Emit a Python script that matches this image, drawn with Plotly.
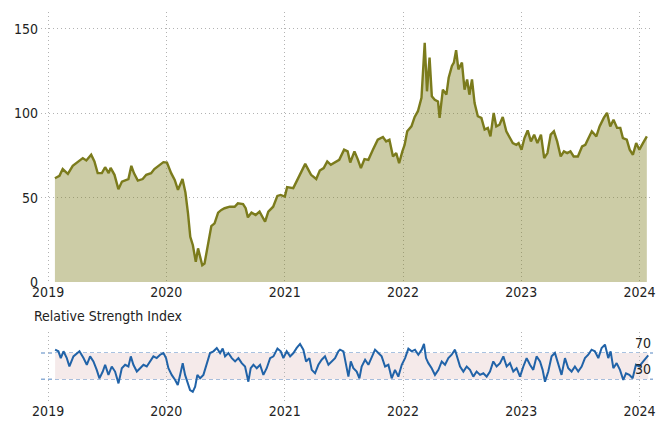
import pandas as pd
import plotly.graph_objects as go

# ---------------- data ----------------
price_dates = [
    "2019-01-22", "2019-02-05", "2019-02-15", "2019-03-03", "2019-03-18", "2019-04-03",
    "2019-04-18", "2019-04-29", "2019-05-14", "2019-05-24", "2019-06-03", "2019-06-16",
    "2019-06-26", "2019-07-07", "2019-07-13", "2019-07-25", "2019-08-06", "2019-08-17",
    "2019-08-30", "2019-09-06", "2019-09-15", "2019-09-23", "2019-10-05", "2019-10-20",
    "2019-10-31", "2019-11-15", "2019-11-25", "2019-12-10", "2019-12-23", "2020-01-03",
    "2020-01-16", "2020-01-27", "2020-02-06", "2020-02-20", "2020-02-29", "2020-03-08",
    "2020-03-15", "2020-03-23", "2020-04-01", "2020-04-08", "2020-04-15", "2020-04-21",
    "2020-04-28", "2020-05-09", "2020-05-19", "2020-05-29", "2020-06-09", "2020-06-19",
    "2020-06-29", "2020-07-15", "2020-07-30", "2020-08-09", "2020-08-25", "2020-09-02",
    "2020-09-09", "2020-09-20", "2020-10-03", "2020-10-15", "2020-11-01", "2020-11-11",
    "2020-11-26", "2020-12-09", "2020-12-19", "2021-01-01", "2021-01-08", "2021-01-27",
    "2021-02-06", "2021-02-19", "2021-03-05", "2021-03-12", "2021-03-23", "2021-04-08",
    "2021-04-19", "2021-05-01", "2021-05-12", "2021-05-23", "2021-06-04", "2021-06-18",
    "2021-07-03", "2021-07-14", "2021-07-22", "2021-08-04", "2021-08-14", "2021-08-24",
    "2021-09-04", "2021-09-16", "2021-09-30", "2021-10-15", "2021-10-31", "2021-11-10",
    "2021-11-20", "2021-12-01", "2021-12-11", "2021-12-20", "2021-12-30", "2022-01-06",
    "2022-01-14", "2022-01-27", "2022-02-06", "2022-02-16", "2022-02-27", "2022-03-09",
    "2022-03-16", "2022-03-24", "2022-03-31", "2022-04-09", "2022-04-19", "2022-04-24",
    "2022-05-04", "2022-05-15", "2022-05-22", "2022-06-01", "2022-06-07", "2022-06-14",
    "2022-06-21", "2022-07-02", "2022-07-10", "2022-07-18", "2022-07-25", "2022-08-02",
    "2022-08-10", "2022-08-20", "2022-08-31", "2022-09-10", "2022-09-20", "2022-09-28",
    "2022-10-08", "2022-10-16", "2022-10-26", "2022-11-05", "2022-11-16", "2022-11-26",
    "2022-12-06", "2022-12-17", "2022-12-24", "2023-01-02", "2023-01-11", "2023-01-21",
    "2023-01-31", "2023-02-10", "2023-02-20", "2023-03-03", "2023-03-13", "2023-03-23",
    "2023-04-02", "2023-04-12", "2023-04-22", "2023-05-03", "2023-05-13", "2023-05-23",
    "2023-06-02", "2023-06-12", "2023-06-25", "2023-07-08", "2023-07-18", "2023-07-28",
    "2023-08-07", "2023-08-21", "2023-08-31", "2023-09-13", "2023-09-23", "2023-10-03",
    "2023-10-13", "2023-10-24", "2023-11-03", "2023-11-11", "2023-11-23", "2023-12-02",
    "2023-12-12", "2023-12-22", "2024-01-01", "2024-01-12", "2024-01-24",
]
price_values = [
    61.5, 62.9, 66.9, 64.1, 68.8, 71.4,
    73.4, 72.0, 75.4, 71.4, 64.5, 64.5,
    68.0, 64.5, 67.6, 63.5, 55.0, 59.5,
    60.5, 61.0, 68.8, 64.5, 60.1, 61.0,
    63.5, 64.5, 66.9, 69.4, 71.0, 70.8,
    64.5, 60.5, 54.6, 61.0, 53.0, 40.7,
    26.8, 21.8, 11.9, 19.9, 15.3, 9.9,
    10.9, 22.8, 33.1, 34.7, 41.1, 42.7,
    43.7, 44.6, 44.6, 46.6, 46.2, 43.7,
    38.3, 41.1, 39.7, 41.7, 35.7, 41.7,
    44.6, 51.0, 51.6, 50.6, 56.2, 55.6,
    59.5, 65.5, 70.0, 67.5, 63.5, 61.0,
    66.0, 67.5, 71.4, 69.4, 70.8, 72.4,
    78.4, 77.4, 70.8, 77.4, 72.8, 67.5,
    72.8, 72.4, 78.4, 84.3, 85.9, 83.3,
    84.3, 74.4, 76.4, 70.4, 77.4, 81.3,
    89.3, 92.2, 97.8, 101.2, 109.1, 141.8,
    113.0, 133.0, 110.0, 108.0, 107.0, 97.2,
    114.0, 111.0, 121.0, 128.0, 130.0, 137.4,
    126.0, 130.0, 114.0, 120.0, 111.0, 120.0,
    106.0, 98.2, 97.2, 90.3, 91.3, 86.3,
    100.2, 92.2, 93.2, 97.8, 89.3, 85.3,
    82.3, 81.3, 82.3, 78.4, 85.3, 89.8,
    83.3, 87.3, 82.3, 87.3, 73.4, 76.4,
    87.3, 89.3, 83.3, 74.4, 77.4, 76.4,
    77.4, 74.4, 74.4, 80.3, 81.3, 85.3,
    89.3, 86.3, 92.2, 97.2, 100.2, 92.2,
    96.2, 91.3, 91.3, 85.3, 84.3, 78.4,
    75.4, 82.3, 78.4, 82.3, 86.3,
]

# RSI: time as years elapsed since 2019-01-01, and the index value
rsi_years = [
    0.059, 0.087, 0.107, 0.130, 0.158, 0.180, 0.214, 0.242, 0.265, 0.299, 0.327, 0.355,
    0.383, 0.411, 0.434, 0.462, 0.482, 0.510, 0.538, 0.566, 0.595, 0.623, 0.651, 0.679,
    0.699, 0.721, 0.750, 0.778, 0.806, 0.834, 0.862, 0.890, 0.918, 0.947, 0.975, 0.997,
    1.017, 1.045, 1.074, 1.096, 1.116, 1.138, 1.158, 1.178, 1.200, 1.223, 1.243, 1.262,
    1.285, 1.313, 1.336, 1.369, 1.398, 1.426, 1.454, 1.476, 1.496, 1.524, 1.553, 1.581,
    1.609, 1.637, 1.665, 1.693, 1.713, 1.736, 1.764, 1.792, 1.820, 1.848, 1.877, 1.905,
    1.939, 1.967, 1.989, 2.017, 2.046, 2.074, 2.102, 2.130, 2.158, 2.181, 2.209, 2.229,
    2.257, 2.285, 2.313, 2.341, 2.370, 2.398, 2.426, 2.454,
    2.468, 2.497, 2.519, 2.539, 2.559, 2.581, 2.609, 2.632, 2.651, 2.680, 2.708, 2.736,
    2.764, 2.792, 2.820, 2.849, 2.877, 2.905, 2.933, 2.961, 2.990, 3.018, 3.046, 3.074,
    3.102, 3.130, 3.159, 3.178, 3.195, 3.215, 3.243, 3.271, 3.300, 3.328, 3.356, 3.384,
    3.412, 3.440, 3.460, 3.483, 3.511, 3.539, 3.567, 3.595, 3.623, 3.652, 3.680, 3.708,
    3.736, 3.764, 3.792, 3.821, 3.849, 3.877, 3.905, 3.933, 3.961, 3.990, 4.018, 4.046,
    4.074, 4.102, 4.130, 4.159, 4.181, 4.201, 4.229, 4.257, 4.285, 4.313, 4.341, 4.370,
    4.398, 4.426, 4.454, 4.482, 4.511, 4.539, 4.567, 4.595, 4.623, 4.652, 4.680, 4.708,
    4.736, 4.756, 4.779, 4.807, 4.835, 4.863, 4.886, 4.914, 4.942, 4.970, 4.998, 5.032,
    5.074,
]
rsi_values = [
    75.1, 72.6, 62.3, 72.6, 62.3, 49.5, 64.9, 70.0, 72.6, 62.3, 52.1, 64.9,
    57.2, 44.4, 31.5, 41.8, 52.1, 36.7, 49.5, 41.8, 23.8, 46.9, 52.1, 49.5,
    64.9, 52.1, 41.8, 46.9, 52.1, 49.5, 57.2, 64.9, 62.3, 67.4, 70.0, 62.3,
    46.9, 36.7, 29.0, 21.3, 36.7, 54.6, 36.7, 26.4, 13.6, 11.0, 18.7, 36.7,
    31.5, 36.7, 52.1, 70.0, 72.6, 77.7, 70.0, 76.7, 64.9, 70.0, 62.3, 57.2,
    62.3, 54.6, 49.5, 26.4, 46.9, 52.1, 46.9, 52.1, 36.7, 46.9, 62.3, 64.9,
    76.7, 72.6, 62.3, 72.6, 64.9, 70.0, 77.7, 83.9, 75.1, 57.2, 62.3, 44.4,
    39.2, 52.1, 59.8, 64.9, 52.1, 57.2, 62.3, 72.6,
    75.1, 72.6, 52.1, 34.1, 57.2, 46.9, 41.8, 31.5, 49.5, 59.8, 52.1, 64.9,
    75.1, 70.0, 64.9, 49.5, 52.1, 31.5, 44.4, 34.1, 52.1, 62.3, 76.7, 72.6,
    75.1, 67.4, 75.1, 83.9, 62.3, 54.6, 46.9, 36.7, 44.4, 57.2, 52.1, 62.3,
    67.4, 75.1, 62.3, 49.5, 41.8, 49.5, 44.4, 34.1, 41.8, 36.7, 39.2, 34.1,
    41.8, 57.2, 49.5, 54.6, 64.9, 49.5, 54.6, 41.8, 46.9, 34.1, 49.5, 62.3,
    52.1, 44.4, 64.9, 57.2, 44.4, 26.4, 41.8, 64.9, 70.0, 52.1, 36.7, 62.3,
    46.9, 41.8, 49.5, 41.8, 49.5, 62.3, 67.4, 75.1, 72.6, 62.3, 77.7, 82.8,
    62.3, 72.6, 46.9, 54.6, 44.4, 29.0, 39.2, 36.7, 31.5, 52.1, 49.5, 57.2,
    66.4,
]
rsi_levels = [30, 70]

year_ticks = ["2019-01-01", "2020-01-01", "2021-01-01", "2022-01-01", "2023-01-01", "2024-01-01"]
year_labels = ["2019", "2020", "2021", "2022", "2023", "2024"]
price_ticks = [0, 50, 100, 150]

# ---------------- figure ----------------
base = pd.Timestamp("2019-01-01")
rsi_dates = [base + pd.Timedelta(days=y * 365.25) for y in rsi_years]

FONT = "DejaVu Sans Condensed, DejaVu Sans, sans-serif"
GRID = "#b2b2b2"
GRID_DASH = "1px,3px"
x_range = ["2018-12-10", "2024-02-12"]

fig = go.Figure()
fig.add_trace(go.Scatter(
    x=price_dates, y=price_values, mode="lines",
    line=dict(color="#7b7b1c", width=2.4),
    fill="tozeroy", fillcolor="rgba(128,128,32,0.40)",
    xaxis="x", yaxis="y", showlegend=False, hoverinfo="skip",
))
fig.add_trace(go.Scatter(
    x=rsi_dates, y=rsi_values, mode="lines",
    line=dict(color="#2163a8", width=2),
    xaxis="x2", yaxis="y2", showlegend=False, hoverinfo="skip",
))

# RSI band and level lines
fig.add_shape(type="rect", xref="x2", yref="y2",
              x0=rsi_dates[0], x1=rsi_dates[-1], y0=rsi_levels[0], y1=rsi_levels[1],
              fillcolor="#f5eaea", line=dict(width=0), layer="below")
for lv in rsi_levels:
    fig.add_shape(type="line", xref="x2 domain", yref="y2", x0=0, x1=1, y0=lv, y1=lv,
                  line=dict(color="#8daed6", width=1.6, dash="4px,3px"), layer="below")
    fig.add_annotation(text=str(lv), xref="paper", x=1, xanchor="right",
                       yref="y2", y=lv, yanchor="bottom", showarrow=False,
                       font=dict(family=FONT, size=14, color="#222"))

fig.add_annotation(text="Relative Strength Index", xref="paper", x=0, xanchor="left", xshift=-9,
                   yref="paper", y=0.1774, yanchor="middle", yshift=16, showarrow=False,
                   font=dict(family=FONT, size=14, color="#222"))

axis_common = dict(
    type="date", range=x_range, tickvals=year_ticks, ticktext=year_labels,
    showgrid=True, gridcolor=GRID, griddash=GRID_DASH, gridwidth=1,
    showline=False, zeroline=False, ticks="", automargin=False,
    tickfont=dict(family=FONT, size=14, color="#222"),
)

fig.update_layout(
    width=666, height=421,
    margin=dict(l=41, r=13, t=12, b=20),
    paper_bgcolor="white", plot_bgcolor="white",
    xaxis=dict(domain=[0, 1], anchor="y", **axis_common),
    yaxis=dict(domain=[0.306, 1], anchor="x", range=[0, 160], tickvals=price_ticks,
               showgrid=True, gridcolor=GRID, griddash=GRID_DASH, gridwidth=1,
               zeroline=False, showline=False, ticks="", automargin=False,
               ticklabelstandoff=2,
               tickfont=dict(family=FONT, size=14, color="#222")),
    xaxis2=dict(domain=[0, 1], anchor="y2", **axis_common),
    yaxis2=dict(domain=[0, 0.1774], anchor="x2", range=[-3, 102],
                showgrid=False, zeroline=False, showline=False, automargin=False,
                showticklabels=False, ticks=""),
)

fig.write_html("out.html", config={"displayModeBar": False},
               post_script="document.body.style.margin='0';")
